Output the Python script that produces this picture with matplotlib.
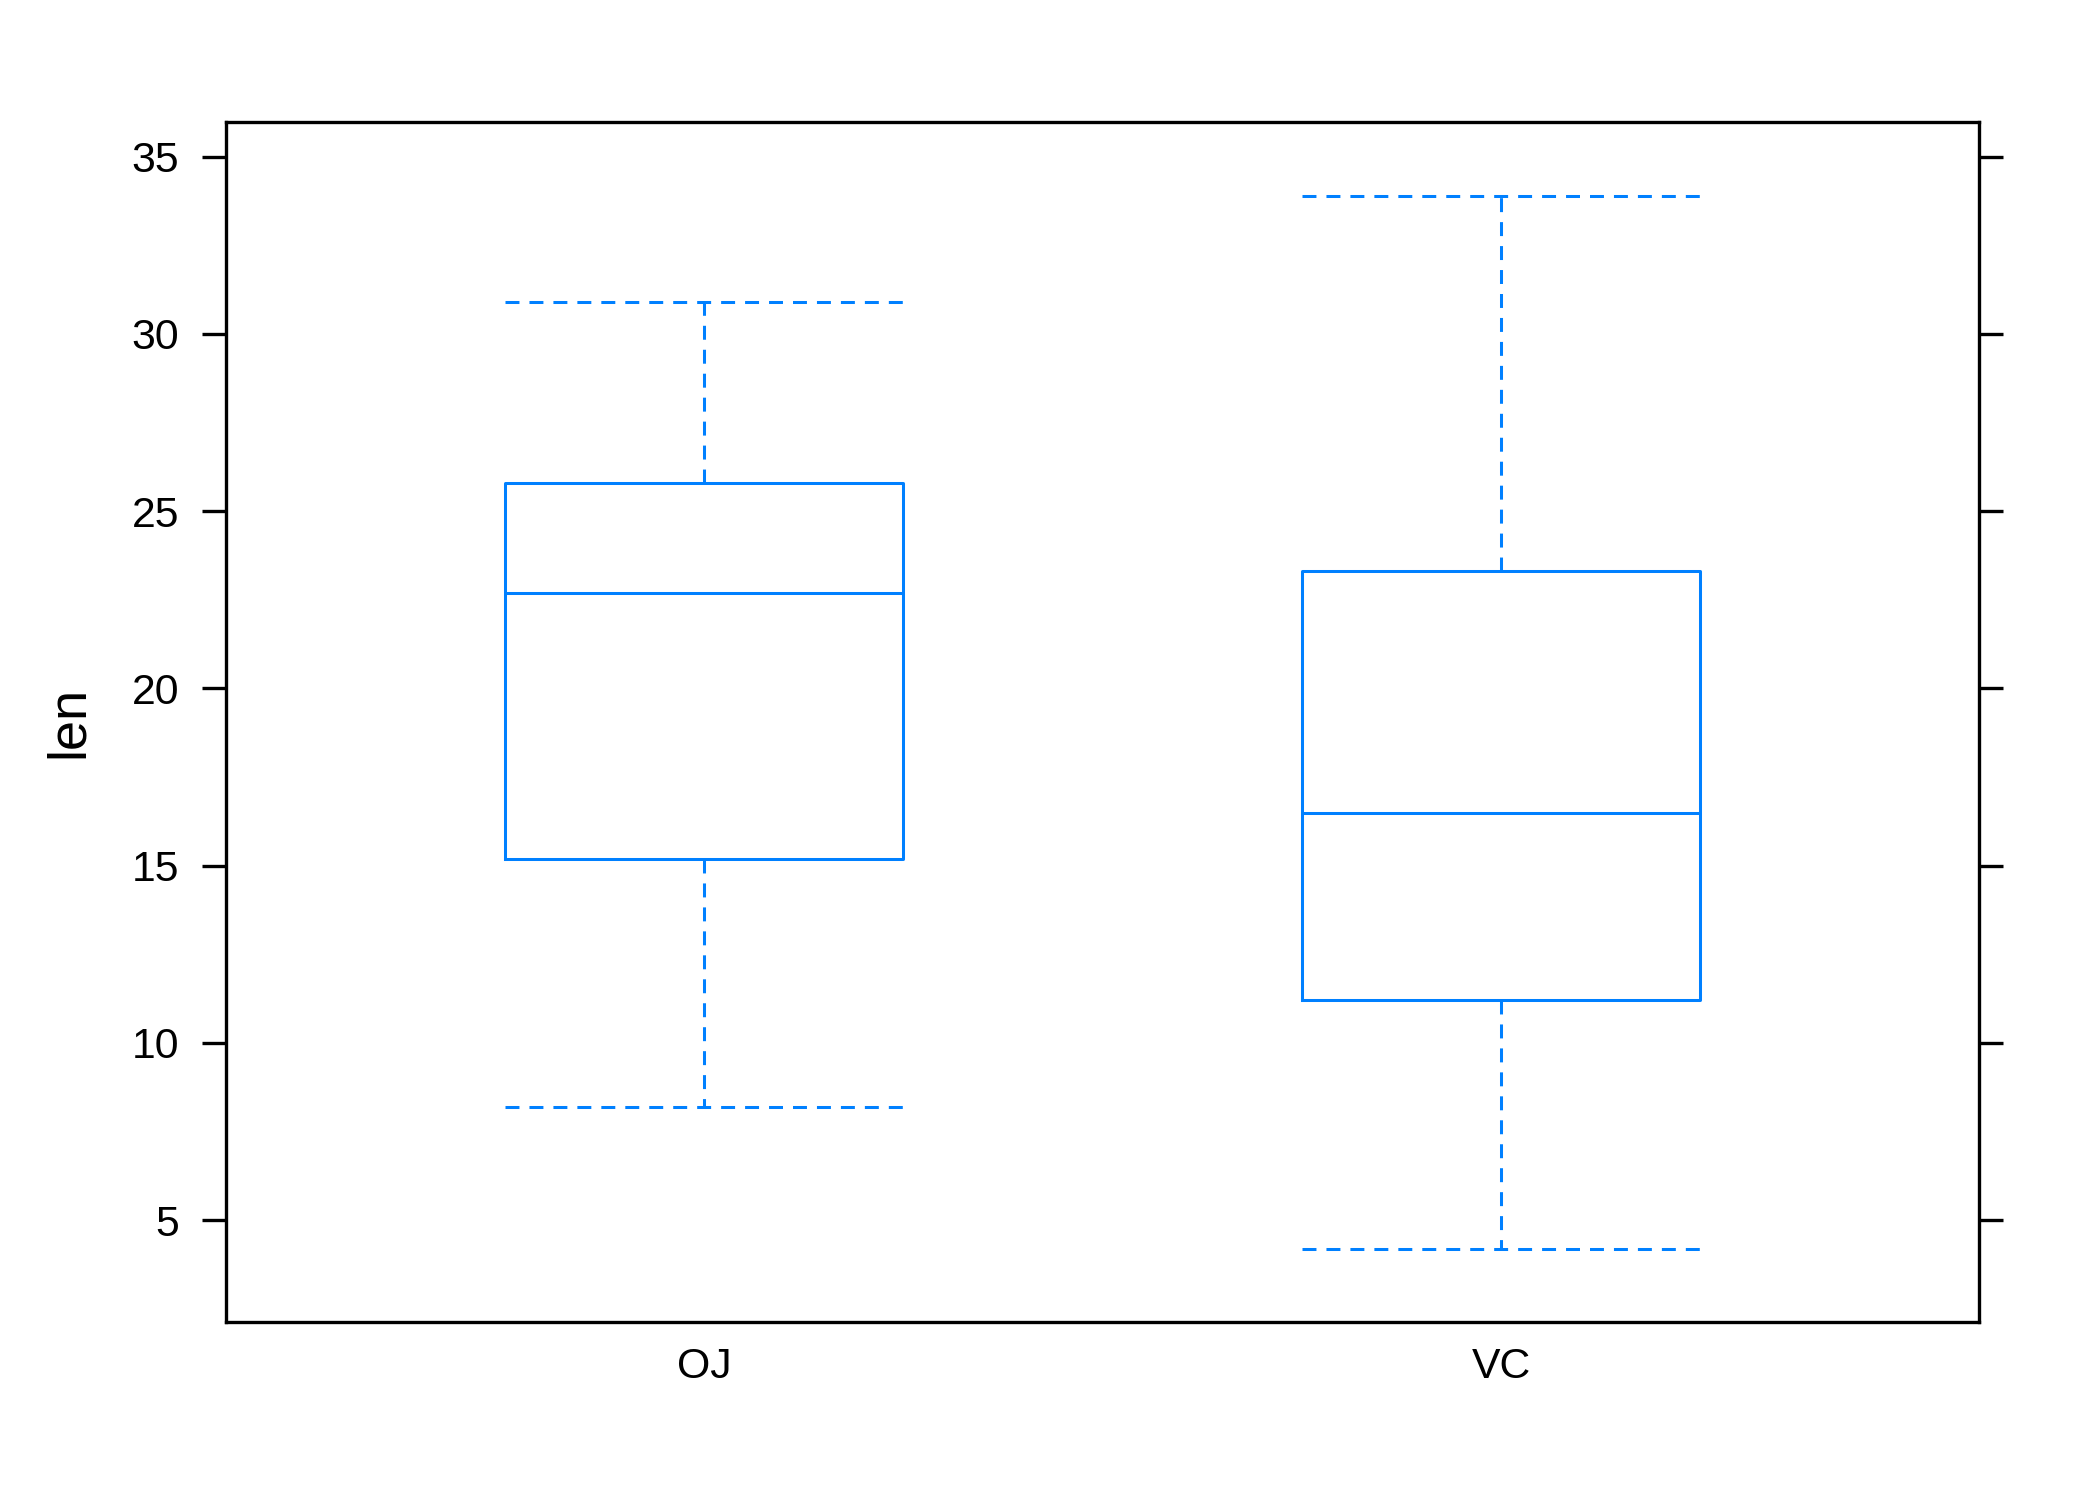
import matplotlib
matplotlib.use("Agg")
import matplotlib.pyplot as plt

# ToothGrowth len ~ supp, five-number summaries
groups = ["OJ", "VC"]
mins = [8.2, 4.2]
q1s = [15.2, 11.2]
medians = [22.7, 16.5]
q3s = [25.8, 23.3]
maxs = [30.9, 33.9]
yticks = [5, 10, 15, 20, 25, 30, 35]

blue = "#0080ff"
plt.rcParams["font.family"] = ["Liberation Sans", "DejaVu Sans"]

fig = plt.figure(figsize=(14, 10), dpi=150)
ax = fig.add_axes([0.1077, 0.1187, 0.8347, 0.8])

stats = []
for i, g in enumerate(groups):
    stats.append({"label": g, "whislo": mins[i], "q1": q1s[i], "med": medians[i],
                  "q3": q3s[i], "whishi": maxs[i], "fliers": []})

lw = 1.45
dash = (0, (6.7 / lw, 4.8 / lw))
ax.bxp(stats, positions=[1, 2], widths=0.5, capwidths=0.5, showfliers=False,
       boxprops=dict(color=blue, lw=lw),
       medianprops=dict(color=blue, lw=lw),
       whiskerprops=dict(color=blue, lw=lw, linestyle=dash),
       capprops=dict(color=blue, lw=lw, linestyle=dash))

ax.set_xlim(0.4, 2.6)
ax.set_ylim(2.13, 35.98)
ax.set_yticks(yticks)
ax.set_xticks([1, 2])
ax.set_xticklabels(groups)
ax.tick_params(axis="y", which="both", direction="out", length=11.5, width=1.6,
               labelsize=20.5, pad=11, right=True)
ax.tick_params(axis="x", length=0, labelsize=20.5, pad=12)
for s in ax.spines.values():
    s.set_linewidth(1.6)

ax.set_ylabel("len", fontsize=26, labelpad=18)

fig.savefig("out.png", dpi=150)
